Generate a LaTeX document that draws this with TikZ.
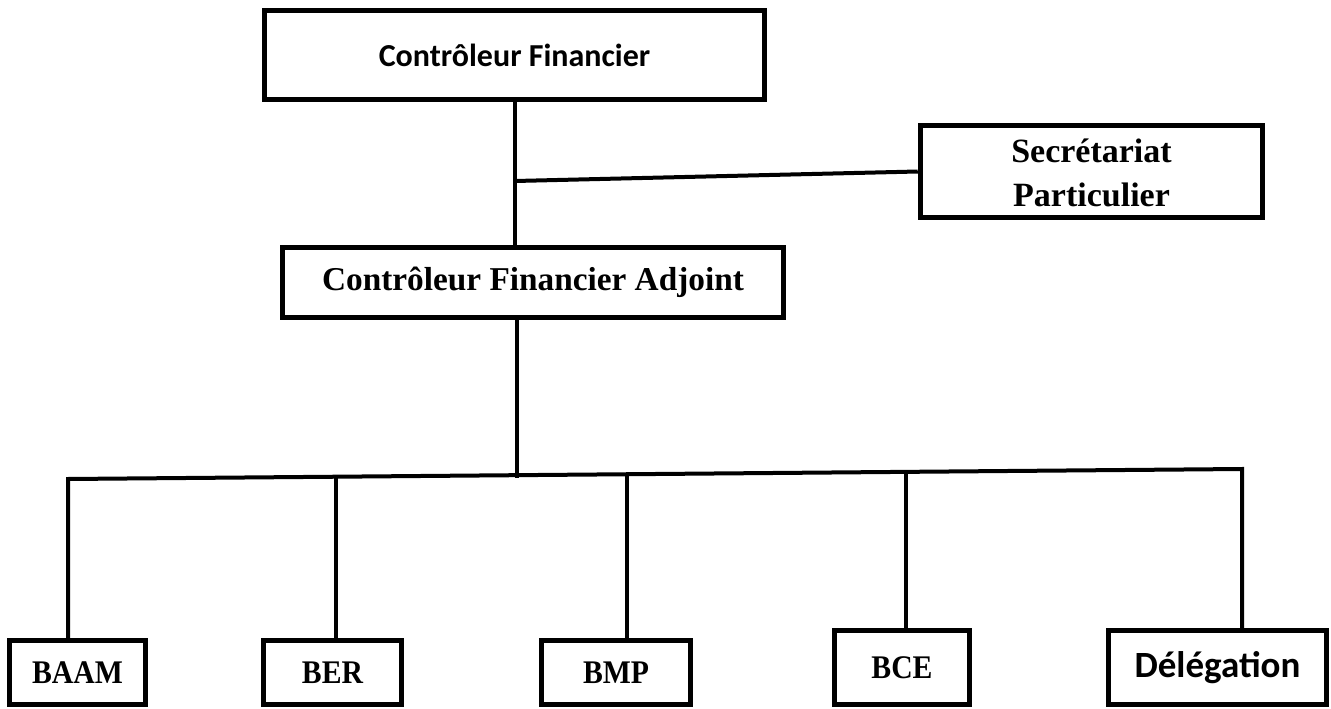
\documentclass[tikz,border=0pt]{standalone}
\usepackage{fontspec}
\usetikzlibrary{calc}
\newfontfamily\calfont{Carlito}
\newfontfamily\camfont{Liberation Serif}
\begin{document}
\begin{tikzpicture}[x=1pt,y=-1pt,
  box/.style={draw=black,line width=5.5pt,fill=white,inner sep=0pt,line join=miter},
  conn/.style={draw=black,line width=4pt},
  small/.style={font=\camfont\bfseries\fontsize{33}{38}\selectfont}]
\useasboundingbox (0,0) rectangle (1331,709);
\node[box,minimum width=500,minimum height=89] (cf) at (514.5,55)
  {\calfont\bfseries\fontsize{32}{38}\selectfont Contrôleur Financier};
\node[box,minimum width=342,minimum height=92] (sp) at (1091.5,171.5)
  {\camfont\bfseries\fontsize{34}{40}\selectfont\raisebox{-5pt}[\height][\depth]{\begin{tabular}{@{}c@{}}Secrétariat\\[4pt]Particulier\end{tabular}}};
\node[box,minimum width=501,minimum height=70] (cfa) at (533,282.5)
  {\camfont\bfseries\fontsize{33.3}{38}\selectfont Contrôleur Financier Adjoint};
\node[box,small,minimum width=136,minimum height=64] (baam) at (77.5,672.5)
  {\scalebox{0.9}[1]{BAAM}};
\node[box,small,minimum width=138,minimum height=64] (ber) at (332.5,672.5)
  {\scalebox{0.9}[1]{BER}};
\node[box,small,minimum width=149,minimum height=64] (bmp) at (616,672.5)
  {\scalebox{0.9}[1]{BMP}};
\node[box,small,minimum width=135,minimum height=74] (bce) at (902,667.5)
  {\scalebox{0.9}[1]{BCE}};
\node[box,minimum width=218,minimum height=74] (del) at (1217.5,667.5)
  {\calfont\bfseries\fontsize{37}{44}\selectfont Délégation};
\coordinate (j1) at (515,181);
\coordinate (bl) at (68,479);
\coordinate (br) at (1242,469);
\coordinate (bcfa) at ($(bl)!0.3824!(br)$);
\coordinate (bber) at ($(bl)!0.2283!(br)$);
\coordinate (bbmp) at ($(bl)!0.4761!(br)$);
\coordinate (bbce) at ($(bl)!0.7138!(br)$);
\draw[conn] (cf.south) -- (cfa.north -| cf.south);
\draw[conn] (j1) -- (sp.west);
\draw[conn] (cfa.south -| bcfa) -- ($(bcfa)+(0,3)$);
\draw[conn,line join=miter] (baam.north -| bl) -- (bl) -- (br) -- (del.north -| br);
\draw[conn] (bber) -- (ber.north -| bber);
\draw[conn] (bbmp) -- (bmp.north -| bbmp);
\draw[conn] (bbce) -- (bce.north -| bbce);
\end{tikzpicture}
\end{document}
